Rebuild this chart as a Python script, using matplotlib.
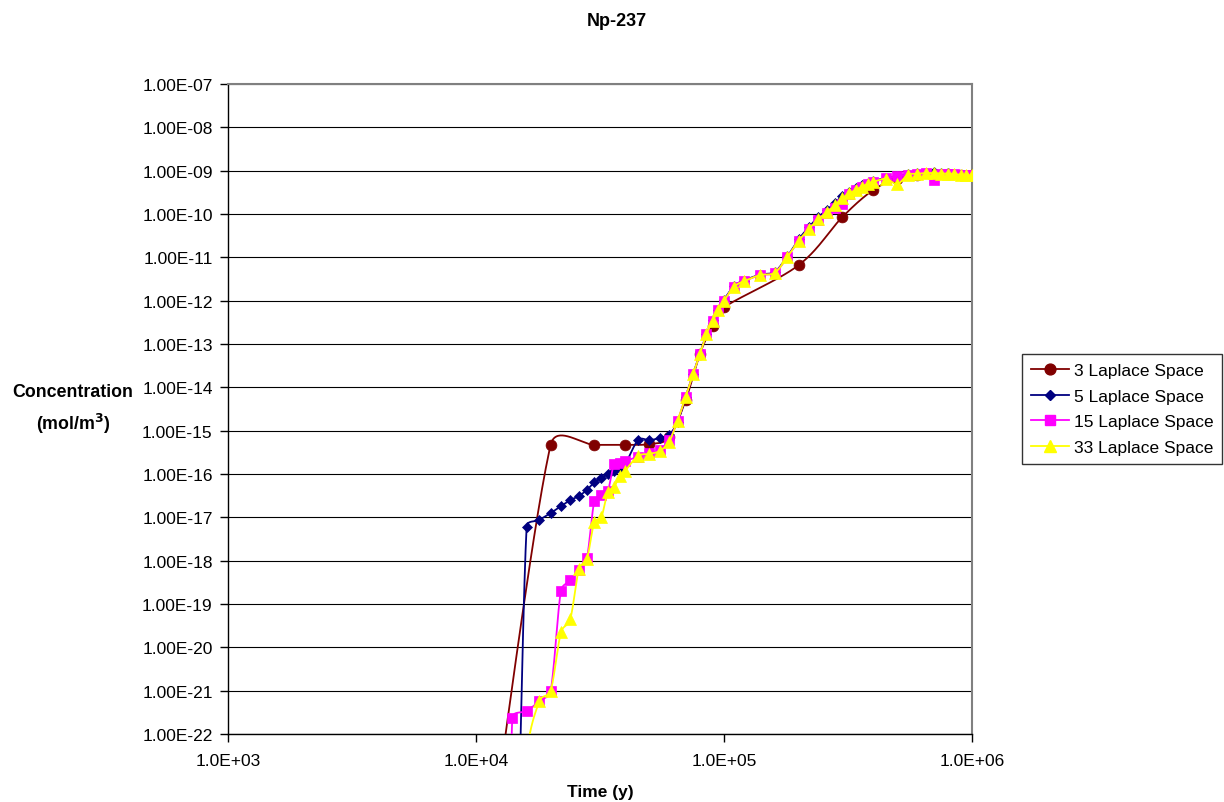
import numpy as np
import matplotlib
matplotlib.use("Agg")
import matplotlib.pyplot as plt
from matplotlib.ticker import FixedLocator, FuncFormatter, NullLocator
from matplotlib.lines import Line2D

plt.rcParams['font.family'] = ['Liberation Sans', 'DejaVu Sans']

# ---- data -------------------------------------------------------------
time_3 = [10000, 20000, 30000, 40000, 50000, 60000, 70000, 80000, 90000,
          100000, 200000, 300000, 400000, 500000, 600000, 700000, 800000,
          900000, 1000000]
conc_3 = [1e-27, 4.7e-16, 4.7e-16, 4.7e-16, 4.9e-16, 7e-16, 5e-15, 6e-14,
          2.6e-13, 7e-13, 6.6e-12, 8.5e-11, 3.6e-10, 6.5e-10, 8.0e-10,
          8.5e-10, 8.4e-10, 8.0e-10, 7.8e-10]

time_n = [12000, 14000, 16000, 18000, 20000, 22000, 24000, 26000, 28000,
          30000, 32000, 34000, 36000, 38000, 40000, 45000, 50000, 55000,
          60000, 65000, 70000, 75000, 80000, 85000, 90000, 95000, 100000,
          110000, 120000, 140000, 160000, 180000, 200000, 220000, 240000,
          260000, 280000, 300000, 320000, 340000, 360000, 380000, 400000,
          450000, 500000, 550000, 600000, 650000, 700000, 750000, 800000,
          850000, 900000, 950000, 1000000]

conc_5 = [1e-32, 1e-29, 6e-18, 8.7e-18, 1.26e-17, 1.8e-17, 2.5e-17, 3.1e-17,
          4.3e-17, 6.4e-17, 8.1e-17, 1.0e-16, 1.2e-16, 1.4e-16, 1.7e-16,
          6.0e-16, 6.0e-16, 6.8e-16, 8.0e-16, 1.6e-15, 6.0e-15, 2.0e-14,
          6.0e-14, 1.7e-13, 3.5e-13, 6.2e-13, 1.05e-12, 2.2e-12, 2.9e-12,
          4.0e-12, 4.6e-12, 1.05e-11, 2.6e-11, 5.0e-11, 8.5e-11, 1.25e-10,
          1.8e-10, 2.6e-10, 3.3e-10, 4.0e-10, 4.6e-10, 5.2e-10, 5.8e-10,
          6.8e-10, 7.5e-10, 8.2e-10, 8.7e-10, 9.0e-10, 9.2e-10, 8.9e-10,
          8.7e-10, 8.4e-10, 8.1e-10, 7.9e-10, 7.8e-10]

conc_15 = [1e-40, 2.3e-22, 3.4e-22, 5.7e-22, 1.0e-21, 2.0e-19, 3.5e-19,
           6.0e-19, 1.15e-18, 2.4e-17, 3.2e-17, 4.0e-17, 1.7e-16, 1.8e-16,
           2.0e-16, 2.5e-16, 3.0e-16, 3.6e-16, 6.0e-16, 1.7e-15, 6.0e-15,
           2.0e-14, 5.9e-14, 1.7e-13, 3.4e-13, 6.0e-13, 1.0e-12, 2.1e-12,
           2.8e-12, 3.9e-12, 4.4e-12, 1.0e-11, 2.4e-11, 4.5e-11, 7.2e-11,
           1.05e-10, 1.4e-10, 1.7e-10, 2.9e-10, 3.6e-10, 4.3e-10, 5.0e-10,
           5.5e-10, 6.6e-10, 7.5e-10, 8.0e-10, 8.5e-10, 8.8e-10, 6.0e-10,
           8.6e-10, 8.6e-10, 8.4e-10, 8.0e-10, 7.8e-10, 7.8e-10]

conc_33 = [1e-34, 1e-30, 2.7e-23, 5.7e-22, 1.0e-21, 2.2e-20, 4.5e-20,
           6.5e-19, 1.1e-18, 7.8e-18, 1.0e-17, 3.8e-17, 5.0e-17, 8.9e-17,
           1.2e-16, 2.6e-16, 2.9e-16, 3.4e-16, 5.5e-16, 1.7e-15, 6.0e-15,
           2.0e-14, 5.9e-14, 1.7e-13, 3.4e-13, 6.0e-13, 1.0e-12, 2.1e-12,
           2.8e-12, 3.9e-12, 4.4e-12, 1.0e-11, 2.4e-11, 4.5e-11, 7.6e-11,
           1.1e-10, 1.6e-10, 2.3e-10, 3.0e-10, 3.6e-10, 4.3e-10, 5.0e-10,
           5.5e-10, 6.5e-10, 4.9e-10, 8.0e-10, 8.5e-10, 8.8e-10, 8.8e-10,
           8.6e-10, 8.6e-10, 8.4e-10, 8.0e-10, 7.8e-10, 7.8e-10]

series = [
    ("3 Laplace Space", time_3, conc_3, "#800000", "o", 7.8),
    ("5 Laplace Space", time_n, conc_5, "#000080", "D", 5.2),
    ("15 Laplace Space", time_n, conc_15, "#FF00FF", "s", 6.8),
    ("33 Laplace Space", time_n, conc_33, "#FFFF00", "^", 8.0),
]

y_ticks = [10.0 ** e for e in range(-22, -6)]
x_ticks = [1e3, 1e4, 1e5, 1e6]

# ---- figure -------------------------------------------------------------
fig = plt.figure(figsize=(12.24, 8.03), dpi=100)
ax = fig.add_axes([228 / 1224, 1 - 735 / 803, (972 - 228) / 1224, (735 - 85) / 803])
ax.set_xscale('log')
ax.set_yscale('log')
ax.set_xlim(1e3, 1e6)
ax.set_ylim(1e-22, 1e-7)


def smooth_curve(ax, xs, ys, n=40):
    """Bezier smoothing in screen space with control handles limited to
    half of the segment length (avoids large overshoot)."""
    pts = ax.transData.transform(np.column_stack([xs, ys]))
    out = []
    m = len(pts)
    t = np.linspace(0, 1, n)[:, None]
    for i in range(m - 1):
        p0 = pts[i - 1] if i > 0 else pts[i]
        p1 = pts[i]
        p2 = pts[i + 1]
        p3 = pts[i + 2] if i + 2 < m else pts[i + 1]
        d12 = np.hypot(*(p2 - p1))
        v1 = (p2 - p0) / 6.0
        v2 = (p3 - p1) / 6.0
        for v in (v1, v2):
            nv = np.hypot(*v)
            if nv > d12 / 2 and nv > 0:
                v *= (d12 / 2) / nv
        c1 = p1 + v1
        c2 = p2 - v2
        seg = ((1 - t) ** 3) * p1 + 3 * ((1 - t) ** 2) * t * c1 + \
              3 * (1 - t) * t ** 2 * c2 + t ** 3 * p2
        out.append(seg if i == 0 else seg[1:])
    curve = np.vstack(out)
    return ax.transData.inverted().transform(curve)


handles = []
for label, xs, ys, color, marker, ms in series:
    cur = smooth_curve(ax, xs, ys)
    ax.plot(cur[:, 0], cur[:, 1], color=color, lw=1.3, zorder=3)
    ax.plot(xs, ys, linestyle='none', marker=marker, ms=ms, color=color,
            markeredgecolor=color, markeredgewidth=0.5, zorder=3)
    handles.append(Line2D([], [], color=color, lw=1.3, marker=marker, ms=ms,
                          markeredgecolor=color, label=label))

# ---- axes styling ------------------------------------------------------------
ax.yaxis.set_major_locator(FixedLocator(y_ticks))
ax.yaxis.set_minor_locator(NullLocator())
ax.xaxis.set_major_locator(FixedLocator(x_ticks))
ax.xaxis.set_minor_locator(NullLocator())
ax.yaxis.set_major_formatter(FuncFormatter(lambda v, p: f"{v:.2E}"))
ax.xaxis.set_major_formatter(FuncFormatter(lambda v, p: f"{v:.1E}"))
ax.tick_params(axis='both', which='major', direction='out', length=6,
               width=1, labelsize=12.5, pad=5, colors='black')
ax.tick_params(axis='x', pad=8)
ax.grid(True, axis='y', which='major', color='black', lw=0.8)
ax.grid(False, axis='x')
ax.set_axisbelow(True)
for side in ('left', 'bottom'):
    ax.spines[side].set_color('black')
    ax.spines[side].set_linewidth(1.0)
for side in ('top', 'right'):
    ax.spines[side].set_color('#808080')
    ax.spines[side].set_linewidth(1.5)

fig.text(617 / 1224, 1 - 22 / 803, "Np-237", ha='center', va='center',
         fontsize=13, fontweight='bold')
fig.text(600 / 1224, 1 - 793 / 803, "Time (y)", ha='center', va='center',
         fontsize=12.5, fontweight='bold')
fig.text(73 / 1224, 1 - 410 / 803, "Concentration\n(mol/m$^\\mathbf{3}$)",
         ha='center', va='center', fontsize=12.8, fontweight='bold',
         linespacing=1.6)

leg = fig.legend(handles=handles, loc='center left',
                 bbox_to_anchor=(1022 / 1224, 1 - 410 / 803),
                 bbox_transform=fig.transFigure, frameon=True, fancybox=False,
                 edgecolor='black', fontsize=12.5, handlelength=2.2,
                 handletextpad=0.3, labelspacing=0.6, borderpad=0.5,
                 borderaxespad=0)
leg.get_frame().set_linewidth(1.0)

fig.savefig("out.png", dpi=100)
